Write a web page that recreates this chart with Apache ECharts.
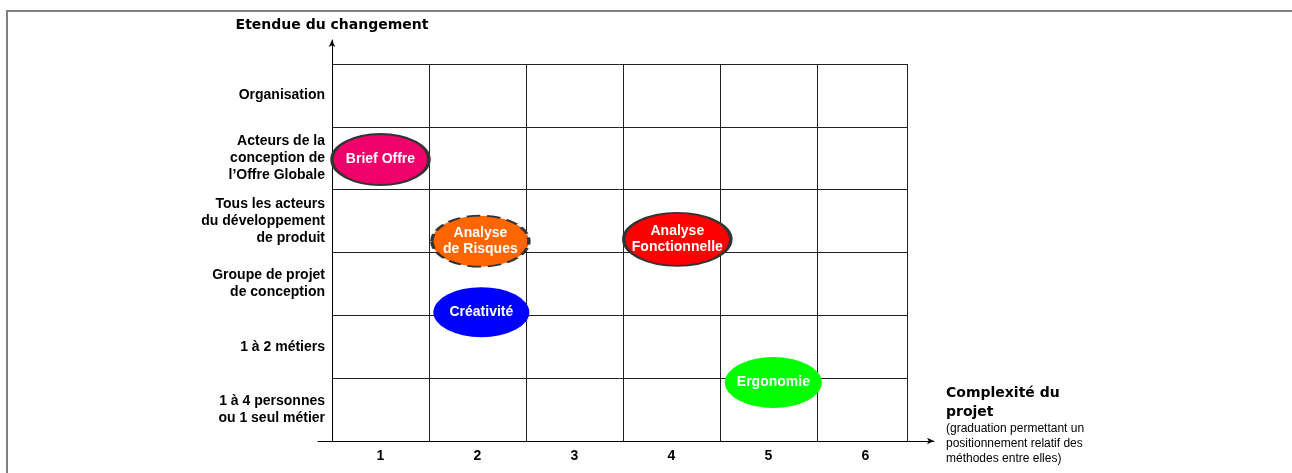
<!DOCTYPE html>
<html>
<head>
<meta charset="utf-8">
<script src="https://cdn.jsdelivr.net/npm/echarts@6/dist/echarts.min.js"></script>
<style>
  html, body { margin: 0; padding: 0; background: #fff; }
  #wrap { position: relative; width: 1292px; height: 473px; overflow: hidden; }
  #frame {
    position: absolute; left: 6px; top: 10px; right: -10px; bottom: -10px;
    border-top: 2px solid #808080; border-left: 2px solid #808080;
  }
  #chart { position: absolute; left: 0; top: 0; width: 1292px; height: 473px; }
</style>
</head>
<body>
<div id="wrap">
  <div id="frame"></div>
  <div id="chart"></div>
</div>
<script>
// colonnes : complexité du projet
const xCategories = ['1', '2', '3', '4', '5', '6'];
// lignes : étendue du changement (du bas vers le haut)
const yCategories = [
  '1 à 4 personnes\nou 1 seul métier',
  '1 à 2 métiers',
  'Groupe de projet\nde conception',
  'Tous les acteurs\ndu développement\nde produit',
  'Acteurs de la\nconception de\nl\u2019Offre Globale',
  'Organisation'
];
// méthodes placées sur la grille
const methods = ['Brief Offre', 'Analyse\nde Risques', 'Créativité', 'Analyse\nFonctionnelle', 'Ergonomie'];
const complexity = [1.0, 2.03, 2.04, 4.06, 5.05];
const extent = [4.98, 3.68, 2.55, 3.71, 1.43];

// apparence des bulles (taille en px, couleurs)
const bubbleLook = [
  { size: [97, 51], color: '#f0006a', border: '#333', bw: 2.5, type: 'solid' },
  { size: [97, 51], color: '#ff6600', border: '#333', bw: 2.5, type: 'dashed' },
  { size: [96, 50], color: '#0000ff', border: null, bw: 0, type: 'solid' },
  { size: [107, 53], color: '#ff0000', border: '#333', bw: 2.5, type: 'solid' },
  { size: [97, 51], color: '#00ff00', border: null, bw: 0, type: 'solid' }
];

const lastEdge = 6.43; // la dernière colonne est un peu plus étroite
const colEdges = xCategories.map((c, i) => i + 1.5);
colEdges[colEdges.length - 1] = lastEdge;
const rowEdges = yCategories.map((c, i) => i + 1.5);

const gridLines = [];
colEdges.forEach(x => gridLines.push([{ coord: [x, 0.5] }, { coord: [x, 6.5] }]));
rowEdges.forEach(y => gridLines.push([{ coord: [0.5, y] }, { coord: [lastEdge, y] }]));

const ellipse = 'path://M0,1A1,1 0 1,1 2,1A1,1 0 1,1 0,1Z';

const points = methods.map((name, i) => {
  const look = bubbleLook[i];
  return {
    name: name,
    value: [complexity[i], extent[i]],
    symbolSize: look.size,
    itemStyle: {
      color: look.color,
      opacity: 1,
      borderColor: look.border || look.color,
      borderWidth: look.bw,
      borderType: look.type
    }
  };
});

const isInt = v => Math.abs(v - Math.round(v)) < 1e-6;

const chart = echarts.init(document.getElementById('chart'));
const option = {
  animation: false,
  grid: {
    left: 318,
    right: 358,
    top: 40,
    bottom: 32,
    containLabel: false,
    outerBoundsMode: 'none'
  },
  xAxis: {
    type: 'value',
    min: 0.356,
    max: 6.706,
    splitNumber: 6,
    minInterval: 1,
    maxInterval: 1,
    name: '{t|Complexité du}\n{t|projet}\n{s|(graduation permettant un}\n{s|positionnement relatif des}\n{s|méthodes entre elles)}',
    nameLocation: 'end',
    nameGap: 12,
    nameTextStyle: {
      align: 'left',
      verticalAlign: 'middle',
      padding: [0, 0, 32, 0],
      rich: {
        t: { fontFamily: 'DejaVu Sans', fontWeight: 'bold', fontSize: 14, lineHeight: 19, color: '#000' },
        s: { fontFamily: 'Liberation Sans', fontSize: 12, lineHeight: 15, color: '#000' }
      }
    },
    axisLine: {
      show: true,
      onZero: false,
      symbol: ['none', 'arrow'],
      symbolSize: [5, 7],
      lineStyle: { color: '#000', width: 1 }
    },
    axisTick: { show: false },
    splitLine: { show: false },
    axisLabel: {
      margin: 8,
      fontFamily: 'Liberation Sans',
      fontWeight: 'bold',
      fontSize: 14,
      color: '#000',
      showMinLabel: false,
      showMaxLabel: false,
      formatter: v => (isInt(v) && v >= 1 && v <= 6) ? xCategories[Math.round(v) - 1] : ''
    }
  },
  yAxis: {
    type: 'value',
    min: 0.5,
    max: 6.882,
    splitNumber: 6,
    minInterval: 1,
    maxInterval: 1,
    offset: -14,
    name: 'Etendue du changement',
    nameLocation: 'end',
    nameGap: 8,
    nameTextStyle: {
      fontFamily: 'DejaVu Sans',
      fontWeight: 'bold',
      fontSize: 14,
      color: '#000'
    },
    axisLine: {
      show: true,
      onZero: false,
      symbol: ['none', 'arrow'],
      symbolSize: [5, 7],
      lineStyle: { color: '#000', width: 1 }
    },
    axisTick: { show: false },
    splitLine: { show: false },
    axisLabel: {
      margin: 7,
      fontFamily: 'Liberation Sans',
      fontWeight: 'bold',
      fontSize: 14,
      lineHeight: 17,
      color: '#000',
      align: 'right',
      showMinLabel: false,
      showMaxLabel: false,
      formatter: v => (isInt(v) && v >= 1 && v <= 6) ? yCategories[Math.round(v) - 1] : ''
    }
  },
  series: [
    {
      // quadrillage
      type: 'scatter',
      data: [],
      z: 1,
      silent: true,
      markLine: {
        z: 1,
        silent: true,
        symbol: ['none', 'none'],
        label: { show: false },
        lineStyle: { color: '#222', width: 1, type: 'solid' },
        emphasis: { disabled: true },
        data: gridLines
      }
    },
    {
      type: 'scatter',
      z: 10,
      symbol: ellipse,
      data: points,
      itemStyle: { opacity: 1 },
      label: {
        show: true,
        position: 'inside',
        formatter: p => p.name,
        color: '#fff',
        textBorderWidth: 0,
        textBorderColor: 'transparent',
        fontFamily: 'Liberation Sans',
        fontWeight: 'bold',
        fontSize: 14,
        lineHeight: 16
      },
      emphasis: { disabled: true }
    }
  ]
};
chart.setOption(option);
window.addEventListener('resize', function () {
  chart.resize();
});
</script>
</body>
</html>
